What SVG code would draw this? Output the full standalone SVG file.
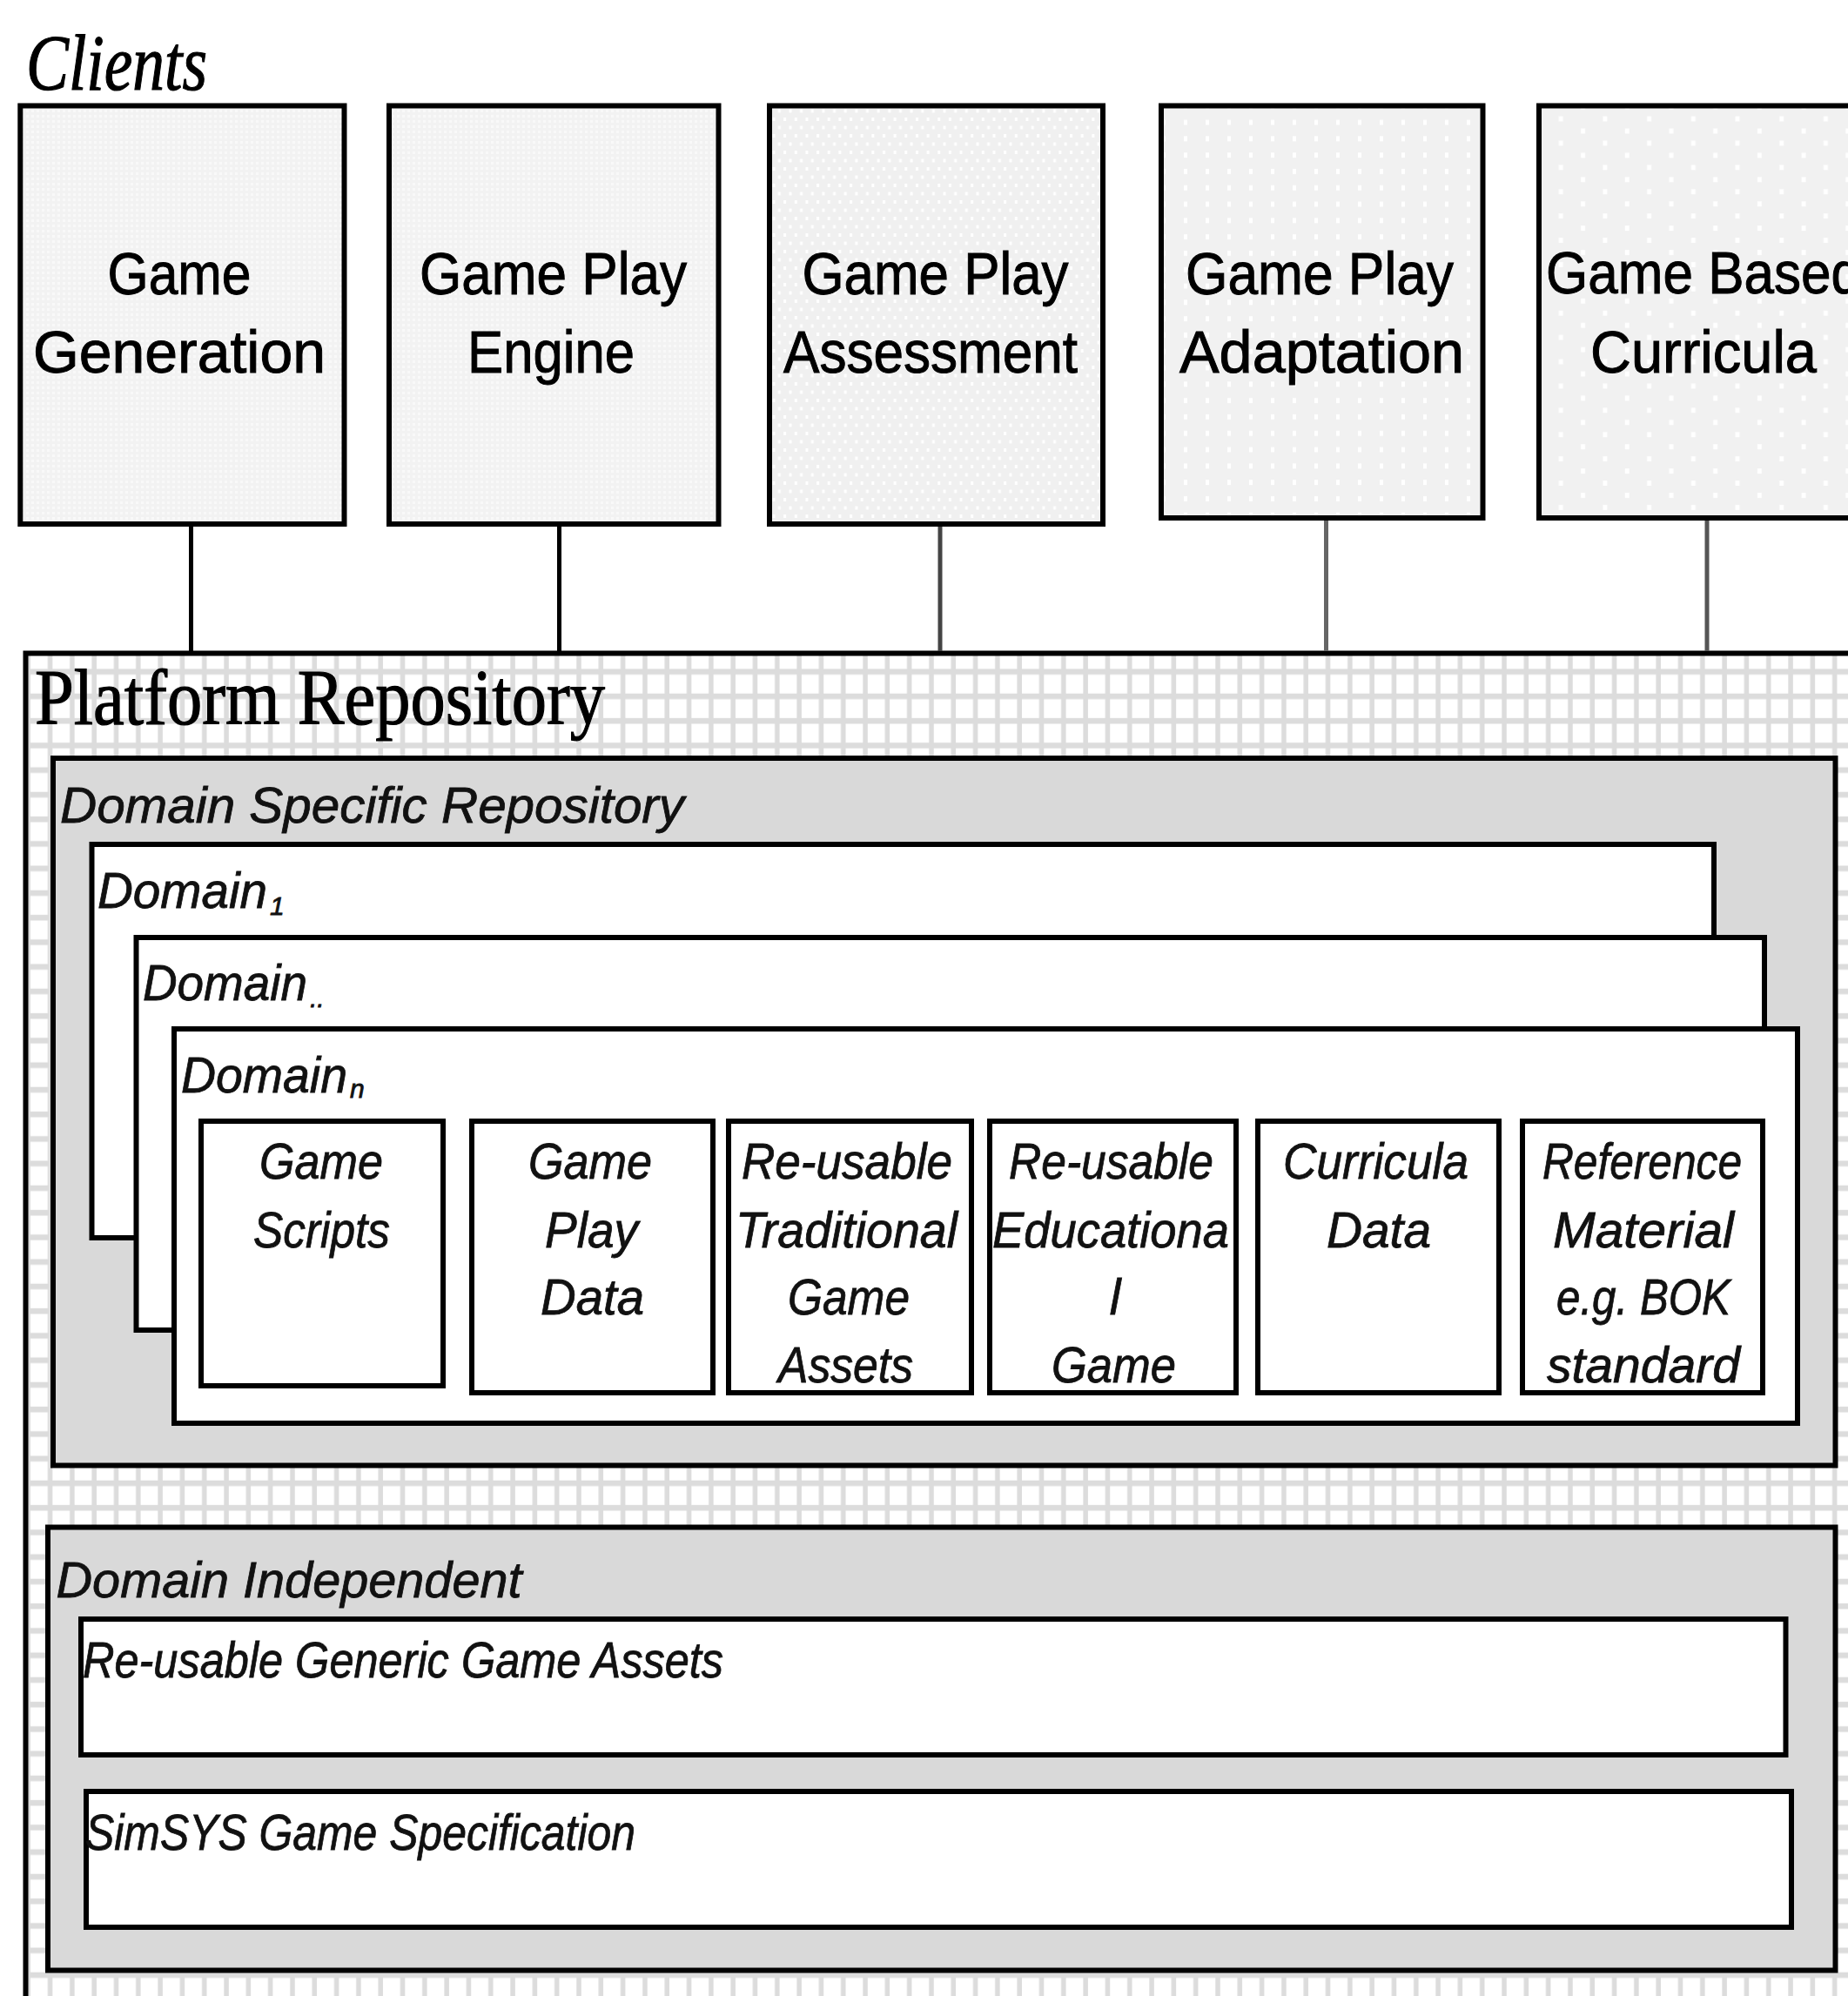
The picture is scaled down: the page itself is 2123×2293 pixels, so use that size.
<svg xmlns="http://www.w3.org/2000/svg" width="2123" height="2293" viewBox="0 0 2123 2293">
  <style>
    .box { stroke: #000; stroke-width: 6; }
    .shade { fill: #d9d9d9; }
    .white { fill: #fff; }
    .conn { stroke-width: 5; fill: none; }
    .client { font-family: "Liberation Sans", Arial, sans-serif; font-size: 68px; fill: #000; stroke: #000; stroke-width: 1; text-anchor: middle; }
    .label { font-family: "Liberation Sans", Arial, sans-serif; font-style: italic; font-size: 57px; fill: #111; stroke: #111; stroke-width: 0.8; }
    .cell { font-family: "Liberation Sans", Arial, sans-serif; font-style: italic; font-size: 57px; fill: #111; stroke: #111; stroke-width: 0.8; text-anchor: middle; }
    .serif { font-family: "Liberation Serif", "Times New Roman", serif; fill: #000; stroke: #000; stroke-width: 1.2; }
    .sub { font-size: 30px; }
  </style>
  <defs>
    <!-- light grid texture of the repository area -->
    <pattern id="grid" width="25.31" height="28.25" patternUnits="userSpaceOnUse">
      <rect width="25.31" height="28.25" fill="#fff"/>
      <rect x="4.2" y="0" width="5.5" height="28.25" fill="#dcdcdc"/>
      <rect x="0" y="5.7" width="25.31" height="6.5" fill="#dcdcdc"/>
    </pattern>
    <!-- client box textures -->
    <pattern id="texFine" width="6" height="6" patternUnits="userSpaceOnUse">
      <rect width="6" height="6" fill="#f2f2f2"/>
      <rect width="3" height="3" fill="#f9f9f9"/>
    </pattern>
    <pattern id="texDense" width="12.65" height="19" patternUnits="userSpaceOnUse">
      <rect width="12.65" height="19" fill="#f0f0f0"/>
      <rect x="2" y="2" width="3" height="4" fill="#fff"/>
      <rect x="8.3" y="11.5" width="3" height="4" fill="#fff"/>
    </pattern>
    <pattern id="texMid" width="25" height="18.8" patternUnits="userSpaceOnUse">
      <rect width="25" height="18.8" fill="#f1f1f1"/>
      <rect x="10" y="6" width="4" height="6" fill="#fff"/>
    </pattern>
    <pattern id="texSparse" width="50.7" height="27.9" patternUnits="userSpaceOnUse">
      <rect width="50.7" height="27.9" fill="#f1f1f1"/>
      <rect x="16.2" y="22" width="5" height="6" fill="#fff"/>
      <rect x="41.55" y="8.05" width="5" height="6" fill="#fff"/>
    </pattern>
  </defs>

  <rect width="2123" height="2293" fill="#fff"/>

  <!-- heading of the client row -->
  <text class="serif" x="30" y="103" font-size="92" font-style="italic" textLength="208" lengthAdjust="spacingAndGlyphs">Clients</text>

  <!-- platform repository container (runs past the page edge) -->
  <g id="platform-repository">
    <rect class="box" x="29.5" y="750.5" width="2200" height="1700" fill="url(#grid)" stroke-width="7"/>
    <text class="serif" x="40" y="832" font-size="90" textLength="655" lengthAdjust="spacingAndGlyphs">Platform Repository</text>
  </g>

  <!-- links from each client down to the repository -->
  <g id="connectors">
    <line class="conn" x1="219.5" y1="602" x2="219.5" y2="748" stroke="#000"/>
    <line class="conn" x1="642.5" y1="602" x2="642.5" y2="748" stroke="#000"/>
    <line class="conn" x1="1080" y1="602" x2="1080" y2="748" stroke="#444"/>
    <line class="conn" x1="1523.5" y1="595" x2="1523.5" y2="748" stroke="#666"/>
    <line class="conn" x1="1961" y1="595" x2="1961" y2="748" stroke="#555"/>
  </g>

  <!-- client boxes -->
  <g id="client-game-generation">
    <rect class="box" x="23.3" y="121.5" width="372.2" height="480.5" fill="url(#texFine)"/>
    <text class="client" x="206" y="338" textLength="165" lengthAdjust="spacingAndGlyphs">Game</text>
    <text class="client" x="206" y="428" textLength="336" lengthAdjust="spacingAndGlyphs">Generation</text>
  </g>
  <g id="client-game-play-engine">
    <rect class="box" x="447" y="121.5" width="378.5" height="480.5" fill="url(#texFine)"/>
    <text class="client" x="635.5" y="338" textLength="307" lengthAdjust="spacingAndGlyphs">Game Play</text>
    <text class="client" x="633" y="428" textLength="192" lengthAdjust="spacingAndGlyphs">Engine</text>
  </g>
  <g id="client-game-play-assessment">
    <rect class="box" x="884" y="121.5" width="383" height="480.5" fill="url(#texDense)"/>
    <text class="client" x="1074.5" y="338" textLength="306" lengthAdjust="spacingAndGlyphs">Game Play</text>
    <text class="client" x="1069" y="428" textLength="338" lengthAdjust="spacingAndGlyphs">Assessment</text>
  </g>
  <g id="client-game-play-adaptation">
    <rect class="box" x="1334" y="121.5" width="369.5" height="473.5" fill="url(#texMid)"/>
    <text class="client" x="1516" y="338" textLength="308" lengthAdjust="spacingAndGlyphs">Game Play</text>
    <text class="client" x="1518.5" y="428" textLength="327" lengthAdjust="spacingAndGlyphs">Adaptation</text>
  </g>
  <g id="client-game-based-curricula">
    <rect class="box" x="1768" y="121.5" width="420" height="473.5" fill="url(#texSparse)"/>
    <text class="client" x="1957" y="337" textLength="362" lengthAdjust="spacingAndGlyphs">Game Based</text>
    <text class="client" x="1957" y="428" textLength="260" lengthAdjust="spacingAndGlyphs">Curricula</text>
  </g>

  <!-- domain specific part of the repository -->
  <g id="domain-specific-repository">
    <rect class="box shade" x="61" y="871" width="2047.5" height="812.5"/>
    <text class="label" x="69" y="945" font-size="58" textLength="717" lengthAdjust="spacingAndGlyphs">Domain Specific Repository</text>
  </g>
  <g id="domain-1">
    <rect class="box white" x="105.5" y="970" width="1863.5" height="452"/>
    <text class="label" x="112" y="1042.5"><tspan textLength="195" lengthAdjust="spacingAndGlyphs">Domain</tspan><tspan class="sub" dx="3" dy="8">1</tspan></text>
  </g>
  <g id="domain-dots">
    <rect class="box white" x="156.5" y="1077" width="1870.5" height="451"/>
    <text class="label" x="164" y="1148.5"><tspan textLength="189" lengthAdjust="spacingAndGlyphs">Domain</tspan><tspan class="sub" dx="3" dy="8">..</tspan></text>
  </g>
  <g id="domain-n">
    <rect class="box white" x="200" y="1182" width="1865" height="453"/>
    <text class="label" x="208" y="1255"><tspan textLength="191" lengthAdjust="spacingAndGlyphs">Domain</tspan><tspan class="sub" dx="3" dy="6">n</tspan></text>
  </g>

  <!-- data stores held by each domain -->
  <g id="game-scripts">
    <rect class="box white" x="231" y="1288" width="278" height="304"/>
    <text class="cell" x="369" y="1354" textLength="142" lengthAdjust="spacingAndGlyphs">Game</text>
    <text class="cell" x="369.5" y="1433" textLength="157" lengthAdjust="spacingAndGlyphs">Scripts</text>
  </g>
  <g id="game-play-data">
    <rect class="box white" x="542" y="1288" width="277" height="312"/>
    <text class="cell" x="678" y="1354" textLength="142" lengthAdjust="spacingAndGlyphs">Game</text>
    <text class="cell" x="679.5" y="1433" textLength="107" lengthAdjust="spacingAndGlyphs">Play</text>
    <text class="cell" x="680.5" y="1510" textLength="119" lengthAdjust="spacingAndGlyphs">Data</text>
  </g>
  <g id="traditional-game-assets">
    <rect class="box white" x="837" y="1288" width="279" height="312"/>
    <text class="cell" x="973" y="1354" textLength="242" lengthAdjust="spacingAndGlyphs">Re-usable</text>
    <text class="cell" x="972.5" y="1433" textLength="255" lengthAdjust="spacingAndGlyphs">Traditional</text>
    <text class="cell" x="975" y="1510" textLength="140" lengthAdjust="spacingAndGlyphs">Game</text>
    <text class="cell" x="971.5" y="1588" textLength="155" lengthAdjust="spacingAndGlyphs">Assets</text>
  </g>
  <g id="educational-game">
    <rect class="box white" x="1137" y="1288" width="283" height="312"/>
    <text class="cell" x="1276.5" y="1354" textLength="235" lengthAdjust="spacingAndGlyphs">Re-usable</text>
    <text class="cell" x="1276" y="1433" textLength="272" lengthAdjust="spacingAndGlyphs">Educationa</text>
    <text class="cell" x="1281" y="1510">l</text>
    <text class="cell" x="1279.5" y="1588" textLength="143" lengthAdjust="spacingAndGlyphs">Game</text>
  </g>
  <g id="curricula-data">
    <rect class="box white" x="1445" y="1288" width="277" height="312"/>
    <text class="cell" x="1580.5" y="1354" textLength="213" lengthAdjust="spacingAndGlyphs">Curricula</text>
    <text class="cell" x="1584" y="1433" textLength="120" lengthAdjust="spacingAndGlyphs">Data</text>
  </g>
  <g id="reference-material">
    <rect class="box white" x="1749" y="1288" width="276" height="312"/>
    <text class="cell" x="1886.5" y="1354" textLength="229" lengthAdjust="spacingAndGlyphs">Reference</text>
    <text class="cell" x="1888" y="1433" textLength="208" lengthAdjust="spacingAndGlyphs">Material</text>
    <text class="cell" x="1888" y="1510" textLength="200" lengthAdjust="spacingAndGlyphs">e.g. BOK</text>
    <text class="cell" x="1888" y="1588" textLength="222" lengthAdjust="spacingAndGlyphs">standard</text>
  </g>

  <!-- domain independent part of the repository -->
  <g id="domain-independent">
    <rect class="box shade" x="55" y="1754.5" width="2053.5" height="509"/>
    <text class="label" x="64.5" y="1835" textLength="535" lengthAdjust="spacingAndGlyphs">Domain Independent</text>
  </g>
  <g id="generic-game-assets">
    <rect class="box white" x="93" y="1860" width="1958.5" height="156"/>
    <text class="label" x="95" y="1927" textLength="736" lengthAdjust="spacingAndGlyphs">Re-usable Generic Game Assets</text>
  </g>
  <g id="game-specification">
    <rect class="box white" x="99" y="2058" width="1959" height="156"/>
    <text class="label" x="98" y="2125" textLength="632" lengthAdjust="spacingAndGlyphs">SimSYS Game Specification</text>
  </g>
</svg>
